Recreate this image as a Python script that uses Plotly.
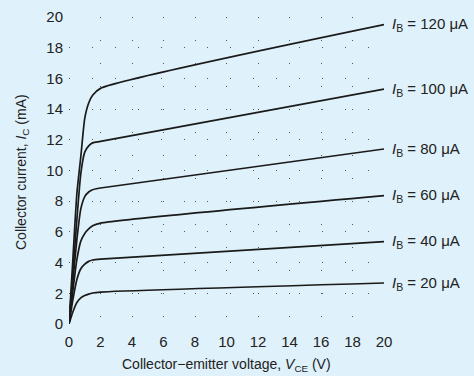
import plotly.graph_objects as go

vce = [0, 0.25, 0.5, 0.75, 1.0, 1.25, 1.5, 2.0, 20.0]
ib_labels = ["20", "40", "60", "80", "100", "120"]
ic_20 = [0, 0.8, 1.4, 1.7, 1.85, 1.95, 2.02, 2.08, 2.67]
ic_40 = [0, 1.6, 2.9, 3.6, 3.9, 4.08, 4.17, 4.23, 5.36]
ic_60 = [0, 2.2, 4.2, 5.4, 5.9, 6.2, 6.4, 6.57, 8.36]
ic_80 = [0, 2.8, 5.5, 7.5, 8.3, 8.6, 8.75, 8.86, 11.4]
ic_100 = [0, 3.4, 6.8, 9.8, 11.2, 11.6, 11.8, 11.9, 15.3]
ic_120 = [0, 4.3, 8.5, 10.9, 13.4, 14.4, 14.9, 15.35, 19.5]
curves = [ic_20, ic_40, ic_60, ic_80, ic_100, ic_120]

x_ticks = [0, 2, 4, 6, 8, 10, 12, 14, 16, 18, 20]
y_ticks = [0, 2, 4, 6, 8, 10, 12, 14, 16, 18, 20]

FONT = "Liberation Sans, Arial, sans-serif"
BG = "#dff1fa"
W, H = 474, 376
L, R, T, B = 69, 90, 17, 52

fig = go.Figure()
for lab, ic in zip(ib_labels, curves):
    fig.add_trace(go.Scatter(x=vce, y=ic, mode="lines",
                             line=dict(color="#1a1a1a", width=1.7, shape="spline", smoothing=0.6),
                             cliponaxis=False, showlegend=False, hoverinfo="skip"))
    fig.add_annotation(x=vce[-1], y=ic[-1], xref="x", yref="y", xanchor="left", yanchor="middle", xshift=6,
                       text=f"<i>I</i><sub>B</sub> = {lab} μA", showarrow=False,
                       font=dict(family=FONT, size=15, color="#222"))

pw = W - L - R
ph = H - T - B
fig.add_annotation(x=(226 - L) / pw, y=-(365 - (H - B)) / ph, xref="paper", yref="paper",
                   xanchor="center", yanchor="middle",
                   text="Collector−emitter voltage, <i>V</i><sub>CE</sub> (V)",
                   showarrow=False, font=dict(family=FONT, size=14, color="#222"))
fig.add_annotation(x=-(L - 22) / pw, y=(H - B - 172) / ph, xref="paper", yref="paper",
                   xanchor="center", yanchor="middle", textangle=-90,
                   text="Collector current, <i>I</i><sub>C</sub> (mA)",
                   showarrow=False, font=dict(family=FONT, size=14, color="#222"))

fig.update_layout(
    width=W, height=H,
    margin=dict(l=L, r=R, t=T, b=B),
    paper_bgcolor=BG, plot_bgcolor=BG,
    font=dict(family=FONT, size=15, color="#222"),
    xaxis=dict(range=[0, 20], tickvals=x_ticks, showline=False, zeroline=False, automargin=False,
               showgrid=True, gridcolor="#555", griddash="1px,22px", gridwidth=1,
               ticks="outside", ticklen=4, tickcolor=BG, tickfont=dict(size=15)),
    yaxis=dict(range=[0, 20], tickvals=y_ticks, showline=False, zeroline=False, automargin=False,
               showgrid=True, gridcolor="#555", griddash="1px,22px", gridwidth=1,
               ticks="outside", ticklen=2, tickcolor=BG, tickfont=dict(size=15)),
)
fig.write_html("out.html", config={"displayModeBar": False},
               post_script="document.body.style.margin='0';document.body.style.background='#dff1fa';")
